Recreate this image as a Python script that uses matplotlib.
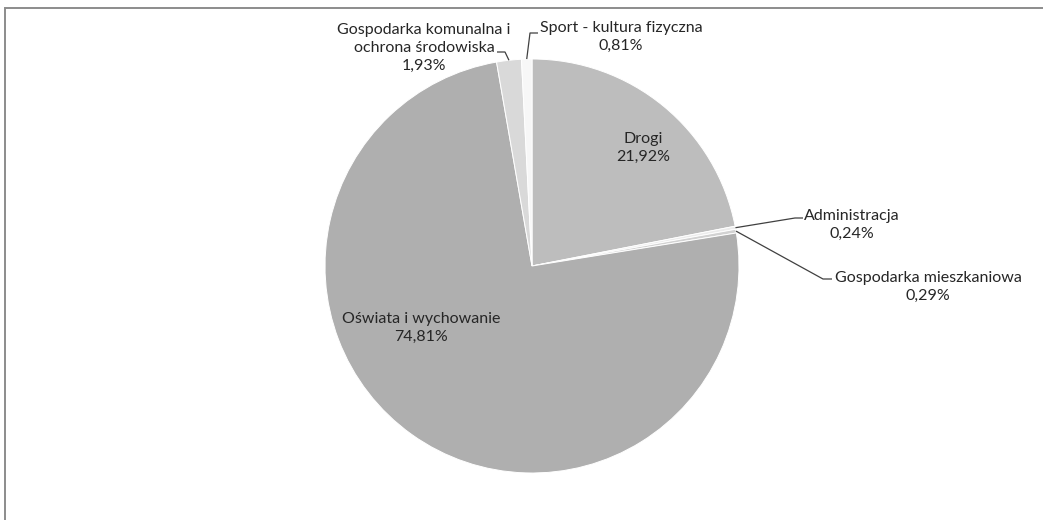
import numpy as np
import matplotlib
matplotlib.use("Agg")
import matplotlib.pyplot as plt
from matplotlib.patches import Rectangle

categories = ["Drogi", "Administracja", "Gospodarka mieszkaniowa",
              "Oświata i wychowanie", "Gospodarka komunalna i\nochrona środowiska",
              "Sport - kultura fizyczna"]
values = [21.92, 0.24, 0.29, 74.81, 1.93, 0.81]
pct_labels = ["21,92%", "0,24%", "0,29%", "74,81%", "1,93%", "0,81%"]
colors = ["#bdbdbd", "#ececec", "#d2d2d2", "#afafaf", "#d9d9d9", "#f7f7f7"]

W, H = 1043, 520
fig = plt.figure(figsize=(W / 100, H / 100), dpi=100)
ax = fig.add_axes([0, 0, 1, 1])
ax.set_xlim(0, W)
ax.set_ylim(0, H)
ax.set_aspect("equal")
ax.axis("off")

plt.rcParams['font.family'] = ['Lato', 'DejaVu Sans']

cx, cy, R = 532, H - 266, 207
wedges, _ = ax.pie(values, colors=colors, startangle=90, counterclock=False,
                   center=(cx, cy), radius=R,
                   wedgeprops=dict(edgecolor="white", linewidth=0.7))
ax.set_xlim(0, W)
ax.set_ylim(0, H)

# frame
fig.patches.append(Rectangle((5 / W, -0.1), 1.2, 1.1 - 8.5 / H, transform=fig.transFigure,
                             fill=False, edgecolor="#8c8c8c", linewidth=1.4))

fs = 11.5
ls = 1.38
tc = "#262626"

# label anchor positions (image pixel coords)
label_pos = {
    0: (643, 148),
    1: (852, 225),
    2: (928, 287),
    3: (421, 328),
    4: (424, 48),
    5: (621, 37),
}

def mid_point(i, frac=1.0):
    w = wedges[i]
    ang = np.deg2rad((w.theta1 + w.theta2) / 2)
    return cx + R * frac * np.cos(ang), cy + R * frac * np.sin(ang)

for i, (cat, p) in enumerate(zip(categories, pct_labels)):
    x, y = label_pos[i]
    ax.text(x, H - y, f"{cat}\n{p}", ha="center", va="center", fontsize=fs,
            linespacing=ls, color=tc)

# leader lines (elbows in image coords)
elbows = {
    1: [(795, 218), (803, 218)],
    2: [(823, 279), (832, 279)],
    4: [(505, 52), (497, 52)],
    5: [(530, 33), (538, 33)],
}
for i, pts in elbows.items():
    sx, sy = mid_point(i)
    xs = [sx] + [p[0] for p in pts]
    ys = [sy] + [H - p[1] for p in pts]
    ax.plot(xs, ys, color="#404040", linewidth=0.9, solid_capstyle="butt")

fig.savefig("out.png", dpi=100, facecolor="white")
